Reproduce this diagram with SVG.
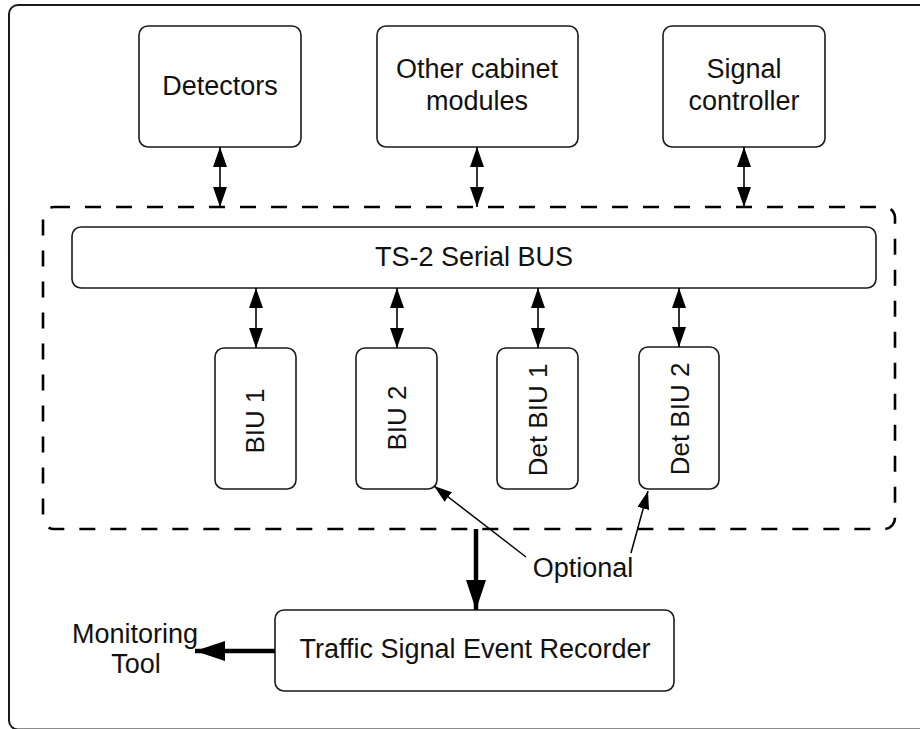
<svg xmlns="http://www.w3.org/2000/svg" width="920" height="729" viewBox="0 0 920 729">
<style>
  .box { fill: #fff; stroke: #1a1a1a; stroke-width: 1.6; }
  .lbl { font-family: "Liberation Sans", Arial, sans-serif; font-size: 27px; fill: #111; text-anchor: middle; }
  .rot { font-size: 26px; }
  .bi { stroke: #000; stroke-width: 1.6; fill: none; marker-start: url(#ah); marker-end: url(#ah); }
  .thick { stroke: #000; stroke-width: 4.5; fill: none; marker-end: url(#ahBig); }
  .thin { stroke: #000; stroke-width: 1.5; fill: none; marker-end: url(#ahSm); }
</style>
<defs>
  <marker id="ah" markerUnits="userSpaceOnUse" markerWidth="20" markerHeight="14" refX="20" refY="7" orient="auto-start-reverse" viewBox="0 0 20 14">
    <path d="M0,0 L20,7 L0,14 z" fill="#000"/>
  </marker>
  <marker id="ahBig" markerUnits="userSpaceOnUse" markerWidth="30" markerHeight="20" refX="30" refY="10" orient="auto" viewBox="0 0 30 20">
    <path d="M0,0 L30,10 L0,20 z" fill="#000"/>
  </marker>
  <marker id="ahSm" markerUnits="userSpaceOnUse" markerWidth="18" markerHeight="12" refX="18" refY="6" orient="auto" viewBox="0 0 18 12">
    <path d="M0,0 L18,6 L0,12 z" fill="#000"/>
  </marker>
</defs>
<rect x="0" y="0" width="920" height="729" fill="#fff"/>
<g id="frame">
  <rect x="9" y="5" width="940" height="724.5" rx="9" fill="none" stroke="#1a1a1a" stroke-width="2"/>
</g>
<g id="cabinet-bus-area">
  <rect x="43" y="207" width="852" height="322" rx="11" fill="none" stroke="#000" stroke-width="2.6" stroke-dasharray="16,15"/>
</g>
<g id="detectors">
  <rect class="box" x="139" y="26" width="162" height="121" rx="9"/>
  <text class="lbl" x="220" y="95">Detectors</text>
</g>
<g id="other-cabinet-modules">
  <rect class="box" x="377" y="26" width="201" height="121" rx="9"/>
  <text class="lbl" x="477" y="78">Other cabinet</text>
  <text class="lbl" x="477" y="110">modules</text>
</g>
<g id="signal-controller">
  <rect class="box" x="663" y="26" width="162" height="121" rx="9"/>
  <text class="lbl" x="744" y="78">Signal</text>
  <text class="lbl" x="744" y="110">controller</text>
</g>
<g id="ts2-bus">
  <rect class="box" x="72" y="227" width="804" height="61" rx="9"/>
  <text class="lbl" x="474" y="266">TS-2 Serial BUS</text>
</g>
<g id="biu1">
  <rect class="box" x="215" y="348" width="81" height="141" rx="9"/>
  <text class="lbl rot" transform="translate(264,421) rotate(-90)">BIU 1</text>
</g>
<g id="biu2">
  <rect class="box" x="356" y="348" width="81" height="141" rx="9"/>
  <text class="lbl rot" transform="translate(406,418) rotate(-90)">BIU 2</text>
</g>
<g id="det-biu1">
  <rect class="box" x="497" y="348" width="81" height="141" rx="9"/>
  <text class="lbl rot" transform="translate(547,420) rotate(-90)">Det BIU 1</text>
</g>
<g id="det-biu2">
  <rect class="box" x="639" y="347" width="80" height="142" rx="9"/>
  <text class="lbl rot" transform="translate(689,419) rotate(-90)">Det BIU 2</text>
</g>
<g id="event-recorder">
  <rect class="box" x="275" y="610" width="399" height="81" rx="9"/>
  <text class="lbl" x="475" y="658">Traffic Signal Event Recorder</text>
</g>
<g id="monitoring-tool">
  <text class="lbl" x="135" y="643">Monitoring</text>
  <text class="lbl" x="136" y="673">Tool</text>
</g>
<g id="optional-label">
  <text class="lbl" x="583" y="577">Optional</text>
</g>
<g id="connectors">
  <line class="bi" x1="220" y1="147" x2="220" y2="207"/>
  <line class="bi" x1="477" y1="147" x2="477" y2="207"/>
  <line class="bi" x1="744" y1="147" x2="744" y2="207"/>
  <line class="bi" x1="256" y1="288" x2="256" y2="348"/>
  <line class="bi" x1="397" y1="288" x2="397" y2="348"/>
  <line class="bi" x1="538" y1="288" x2="538" y2="348"/>
  <line class="bi" x1="679" y1="288" x2="679" y2="347"/>
  <line class="thick" x1="476" y1="529" x2="476" y2="610"/>
  <line class="thick" x1="275" y1="651" x2="195" y2="651"/>
  <line class="thin" x1="526" y1="557" x2="434" y2="486"/>
  <line class="thin" x1="631" y1="553" x2="648" y2="491"/>
</g>
</svg>
